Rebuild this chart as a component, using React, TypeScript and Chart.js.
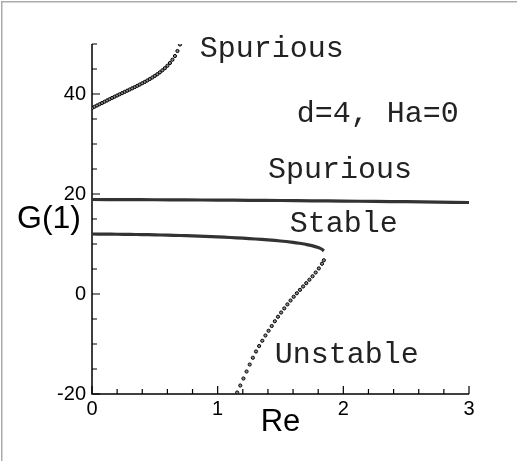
import { useEffect, useRef } from "react";
import { Chart, registerables } from "chart.js";

Chart.register(...registerables);

// Axis ticks
const X_TICKS = [0, 1, 2, 3];
const X_MINOR_TICKS = [0.2, 0.4, 0.6, 0.8, 1.2, 1.4, 1.6, 1.8, 2.2, 2.4, 2.6, 2.8];
const Y_TICKS = [-20, 0, 20, 40];
const Y_MINOR_TICKS = [-15, -10, -5, 5, 10, 15, 25, 30, 35, 45, 50];

// Upper spurious branch
const SPUR_HI_RE = [
  0, 0.02, 0.04, 0.06, 0.08, 0.1, 0.12, 0.14, 0.16, 0.18, 0.2, 0.22, 0.24, 0.26, 0.28, 0.3, 0.32, 0.34,
  0.36, 0.38, 0.4, 0.42, 0.44, 0.46, 0.48, 0.5, 0.52, 0.54, 0.56, 0.58, 0.6, 0.62, 0.64, 0.66, 0.68, 0.7,
];
const SPUR_HI_G = [
  37.2, 37.45, 37.7, 37.95, 38.2, 38.45, 38.71, 38.97, 39.22, 39.46, 39.7, 39.94, 40.18, 40.42, 40.66, 40.9,
  41.14, 41.38, 41.63, 41.89, 42.15, 42.42, 42.7, 43.0, 43.3, 43.62, 43.96, 44.33, 44.73, 45.17, 45.65, 46.2,
  46.85, 47.6, 48.6, 49.9,
];

// Nearly flat spurious branch
const SPUR_FLAT_RE = [0, 0.25, 0.5, 0.75, 1.0, 1.25, 1.5, 1.75, 2.0, 2.25, 2.5, 2.75, 3.0];
const SPUR_FLAT_G = [18.9, 18.88, 18.85, 18.82, 18.78, 18.74, 18.7, 18.64, 18.58, 18.52, 18.46, 18.38, 18.3];

// Stable branch
const STABLE_RE = [
  0, 0.1, 0.2, 0.3, 0.4, 0.5, 0.6, 0.7, 0.8, 0.9, 1.0, 1.1, 1.2, 1.3, 1.4, 1.5, 1.6, 1.65, 1.7, 1.75, 1.8,
  1.83, 1.845,
];
const STABLE_G = [
  12.0, 11.98, 11.95, 11.92, 11.88, 11.83, 11.77, 11.7, 11.62, 11.52, 11.42, 11.3, 11.16, 11.0, 10.82, 10.6,
  10.32, 10.15, 9.94, 9.68, 9.3, 8.95, 8.6,
];

// Unstable branch
const UNSTABLE_RE = [
  1.155, 1.18, 1.205, 1.23, 1.255, 1.28, 1.305, 1.33, 1.355, 1.38, 1.405, 1.43, 1.455, 1.48, 1.505, 1.53,
  1.555, 1.58, 1.605, 1.63, 1.655, 1.68, 1.705, 1.73, 1.755, 1.78, 1.805, 1.83, 1.845,
];
const UNSTABLE_G = [
  -19.7, -18.3, -16.9, -15.5, -14.1, -12.75, -11.5, -10.4, -9.35, -8.3, -7.35, -6.4, -5.45, -4.55, -3.7,
  -2.88, -2.08, -1.3, -0.55, 0.15, 0.83, 1.5, 2.17, 2.85, 3.55, 4.3, 5.12, 6.05, 6.75,
];

// In-plot labels, anchored at (Re, G) on their left baseline
const LABEL_TEXTS = ["Spurious", "d=4, Ha=0", "Spurious", "Stable", "Unstable"];
const LABEL_RE = [0.858, 1.63, 1.4, 1.574, 1.455];
const LABEL_G = [47.4, 34.4, 23.2, 12.4, -13.8];

const X_TITLE = "Re";
const Y_TITLE = "G(1)";

const pairs = (xs: number[], ys: number[]) => xs.map((x, i) => ({ x, y: ys[i] }));

const SANS = '"Liberation Sans", Arial, sans-serif';
const MONO = '"Liberation Mono", "Courier New", monospace';

const axesPlugin = {
  id: "tecplotAxes",
  beforeDraw(chart: any) {
    const { ctx } = chart;
    ctx.save();
    ctx.fillStyle = "#fff";
    ctx.fillRect(0, 0, chart.width, chart.height);
    ctx.strokeStyle = "#ababab";
    ctx.lineWidth = 1.5;
    ctx.strokeRect(1.75, 1.75, chart.width + 4, chart.height + 20);
    ctx.restore();
  },
  beforeDatasetsDraw(chart: any) {
    const { ctx, chartArea, scales } = chart;
    const { left, right, top, bottom } = chartArea;
    const xs = scales.x;
    const ys = scales.y;
    ctx.save();
    ctx.strokeStyle = "#000";
    ctx.lineWidth = 1.5;
    ctx.beginPath();
    ctx.moveTo(left, top);
    ctx.lineTo(left, bottom);
    ctx.lineTo(right, bottom);
    ctx.stroke();
    ctx.lineWidth = 1.2;
    ctx.beginPath();
    X_TICKS.forEach((v) => {
      const px = xs.getPixelForValue(v);
      ctx.moveTo(px, bottom);
      ctx.lineTo(px, bottom - 8);
    });
    X_MINOR_TICKS.forEach((v) => {
      const px = xs.getPixelForValue(v);
      ctx.moveTo(px, bottom);
      ctx.lineTo(px, bottom - 5);
    });
    Y_TICKS.forEach((v) => {
      const py = ys.getPixelForValue(v);
      ctx.moveTo(left, py);
      ctx.lineTo(left + 8, py);
    });
    Y_MINOR_TICKS.forEach((v) => {
      const py = ys.getPixelForValue(v);
      ctx.moveTo(left, py);
      ctx.lineTo(left + 5, py);
    });
    ctx.stroke();
    ctx.restore();
  },
  afterDraw(chart: any) {
    const { ctx, chartArea, scales } = chart;
    const xs = scales.x;
    const ys = scales.y;
    ctx.save();
    ctx.fillStyle = "#000";
    ctx.textAlign = "center";
    ctx.textBaseline = "middle";
    ctx.font = `31px ${SANS}`;
    ctx.fillText(X_TITLE, xs.getPixelForValue(1.5), chartArea.bottom + 28);
    ctx.font = `32px ${SANS}`;
    ctx.fillText(Y_TITLE, chartArea.left - 43, ys.getPixelForValue(15));

    ctx.fillStyle = "#222";
    ctx.textAlign = "left";
    ctx.textBaseline = "alphabetic";
    ctx.font = `30px ${MONO}`;
    LABEL_TEXTS.forEach((t, i) => {
      ctx.fillText(t, xs.getPixelForValue(LABEL_RE[i]), ys.getPixelForValue(LABEL_G[i]));
    });
    ctx.restore();
  },
};

const lineSet = (data: { x: number; y: number }[]) => ({
  data,
  showLine: true,
  borderColor: "#333",
  borderWidth: 3.2,
  pointRadius: 0,
  tension: 0.3,
});

const dotSet = (data: { x: number; y: number }[]) => ({
  data,
  showLine: false,
  pointRadius: 1.6,
  pointBorderWidth: 1,
  pointBorderColor: "#000",
  pointBackgroundColor: "#8a8a8a",
});

export default function App() {
  const ref = useRef<HTMLCanvasElement>(null);

  useEffect(() => {
    if (!ref.current) return;
    const chart = new Chart(ref.current, {
      type: "scatter",
      data: {
        datasets: [
          dotSet(pairs(SPUR_HI_RE, SPUR_HI_G)),
          lineSet(pairs(SPUR_FLAT_RE, SPUR_FLAT_G)),
          lineSet(pairs(STABLE_RE, STABLE_G)),
          dotSet(pairs(UNSTABLE_RE, UNSTABLE_G)),
        ] as any,
      },
      options: {
        animation: false,
        responsive: false,
        devicePixelRatio: 1,
        layout: { padding: { left: 0, top: 44, right: 48, bottom: 0 } },
        plugins: { legend: { display: false }, tooltip: { enabled: false } },
        scales: {
          x: {
            type: "linear",
            min: 0,
            max: 3,
            grid: { display: false, drawTicks: false },
            border: { display: false },
            ticks: { color: "#000", font: { family: SANS, size: 20 }, padding: 3, maxRotation: 0 },
            afterBuildTicks: (s: any) => {
              s.ticks = X_TICKS.map((value) => ({ value }));
            },
            afterFit: (s: any) => {
              s.height = 67;
            },
          },
          y: {
            type: "linear",
            min: -20,
            max: 50,
            grid: { display: false, drawTicks: false },
            border: { display: false },
            ticks: { color: "#000", font: { family: SANS, size: 20 }, padding: 6 },
            afterBuildTicks: (s: any) => {
              s.ticks = Y_TICKS.map((value) => ({ value }));
            },
            afterFit: (s: any) => {
              s.width = 92;
            },
          },
        },
      } as any,
      plugins: [axesPlugin],
    });
    return () => chart.destroy();
  }, []);

  return (
    <div style={{ position: "fixed", left: 0, top: 0, width: 517, height: 461, background: "#fff" }}>
      <canvas ref={ref} width={517} height={461} style={{ display: "block" }} />
    </div>
  );
}
